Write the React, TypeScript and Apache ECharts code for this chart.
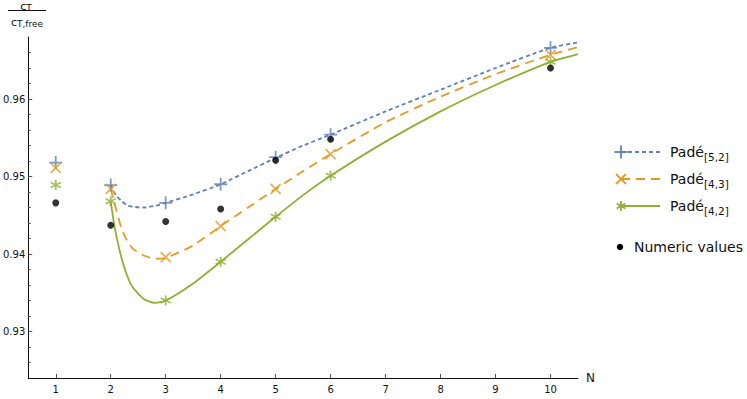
import React, { useEffect, useRef } from "react";
import * as echarts from "echarts";

// ---- data ----
const markerN = [1, 2, 3, 4, 5, 6, 10];
const pade52Points = [0.9518, 0.9489, 0.9466, 0.949, 0.9525, 0.9554, 0.9666];
const pade43Points = [0.9511, 0.9484, 0.9396, 0.9436, 0.9484, 0.9529, 0.9657];
const pade42Points = [0.9489, 0.9468, 0.934, 0.939, 0.9448, 0.9501, 0.9648];
const numericN = [1, 2, 3, 4, 5, 6, 10];
const numericValues = [0.9466, 0.9437, 0.9442, 0.9458, 0.9521, 0.9548, 0.964];

const curveN = [2, 2.05, 2.1, 2.2, 2.3, 2.4, 2.6, 2.8, 3, 3.5, 4, 4.5, 5, 5.5, 6, 7, 8, 9, 10, 10.5];
const pade52Curve = [0.9489, 0.9481, 0.9475, 0.9468, 0.9463, 0.9461, 0.946, 0.9462, 0.9466, 0.9477, 0.949, 0.9507, 0.9524, 0.954, 0.9554, 0.9584, 0.9612, 0.964, 0.9666, 0.9673];
const pade43Curve = [0.9484, 0.947, 0.9457, 0.9432, 0.9417, 0.9407, 0.9398, 0.9394, 0.9395, 0.9411, 0.9436, 0.946, 0.9484, 0.9507, 0.9529, 0.957, 0.9603, 0.9632, 0.9657, 0.9667];
const pade42Curve = [0.9468, 0.9444, 0.9424, 0.9394, 0.9372, 0.9357, 0.9342, 0.9337, 0.934, 0.9362, 0.939, 0.9419, 0.9448, 0.9476, 0.9501, 0.9545, 0.9584, 0.9618, 0.9648, 0.9658];

const xTicks = [1, 2, 3, 4, 5, 6, 7, 8, 9, 10];
const yMajorTicks = [0.93, 0.94, 0.95, 0.96];
const yMinorTicks = [0.926, 0.928, 0.932, 0.934, 0.936, 0.938, 0.942, 0.944, 0.946, 0.948, 0.952, 0.954, 0.956, 0.958, 0.962, 0.964, 0.966];

const BLUE = "#5E81B5";
const ORANGE = "#E19C24";
const GREEN = "#8FB032";
const FONT = "DejaVu Sans";

const PLUS = "path://M5,0L5,10M0,5L10,5";
const CROSS = "path://M0,0L10,10M0,10L10,0";
const STAR = "path://M5,0L5,10M0.67,2.5L9.33,7.5M0.67,7.5L9.33,2.5";

const zip = (xs: number[], ys: number[]) => xs.map((x, i) => [x, ys[i]]);

export default function App() {
  const ref = useRef<HTMLDivElement>(null);
  useEffect(() => {
    if (!ref.current) return;
    document.body.style.margin = "0";
    const chart = echarts.init(ref.current, undefined, { renderer: "svg" });

    const legendRows = [
      { y: 152, color: BLUE, dash: [4, 3], sub: "[5,2]", mark: "plus" },
      { y: 179, color: ORANGE, dash: [9, 6], sub: "[4,3]", mark: "cross" },
      { y: 206, color: GREEN, dash: null, sub: "[4,2]", mark: "star" },
    ];
    const graphics: any[] = [];
    legendRows.forEach((r) => {
      graphics.push({
        type: "line",
        shape: { x1: 621, y1: r.y, x2: 660, y2: r.y },
        style: { stroke: r.color, lineWidth: 1.8, lineDash: r.dash || undefined },
      });
      const cx = 621, cy = r.y;
      let segs: number[][] = [];
      if (r.mark === "plus") segs = [[cx - 6.5, cy, cx + 6.5, cy], [cx, cy - 6.5, cx, cy + 6.5]];
      if (r.mark === "cross") segs = [[cx - 5, cy - 5, cx + 5, cy + 5], [cx - 5, cy + 5, cx + 5, cy - 5]];
      if (r.mark === "star")
        segs = [[cx, cy - 5, cx, cy + 5], [cx - 4.3, cy - 2.5, cx + 4.3, cy + 2.5], [cx - 4.3, cy + 2.5, cx + 4.3, cy - 2.5]];
      segs.forEach((s) =>
        graphics.push({
          type: "line",
          shape: { x1: s[0], y1: s[1], x2: s[2], y2: s[3] },
          style: { stroke: r.color, lineWidth: 1.8 },
        })
      );
      graphics.push({
        type: "text",
        x: 670,
        y: r.y,
        style: {
          text: "{a|Padé}{s|" + r.sub + "}",
          verticalAlign: "middle",
          fill: "#111",
          rich: {
            a: { fontSize: 14, fontFamily: FONT, lineHeight: 20, fill: "#111" },
            s: { fontSize: 10.5, fontFamily: FONT, verticalAlign: "bottom", fill: "#111" },
          },
        },
      });
    });
    graphics.push({ type: "circle", shape: { cx: 620, cy: 247, r: 3.2 }, style: { fill: "#000" } });
    graphics.push({
      type: "text",
      x: 634,
      y: 247,
      style: { text: "Numeric values", fontSize: 14, fontFamily: FONT, fill: "#111", verticalAlign: "middle" },
    });
    // y axis label: c_T / c_T,free
    graphics.push({
      type: "text",
      x: 26,
      y: 1,
      style: {
        text: "{c|c}{s|T}",
        align: "center",
        verticalAlign: "top",
        rich: {
          c: { fontSize: 11, fontFamily: FONT, lineHeight: 11, fill: "#111" },
          s: { fontSize: 9, fontFamily: FONT, verticalAlign: "bottom", fill: "#111" },
        },
      },
    });
    graphics.push({ type: "line", shape: { x1: 8, y1: 10.5, x2: 46, y2: 10.5 }, style: { stroke: "#111", lineWidth: 1 } });
    graphics.push({
      type: "text",
      x: 27,
      y: 22,
      style: {
        text: "{c|c}{s|T,free}",
        align: "center",
        verticalAlign: "middle",
        rich: {
          c: { fontSize: 11, fontFamily: FONT, lineHeight: 13, fill: "#111" },
          s: { fontSize: 9, fontFamily: FONT, verticalAlign: "bottom", fill: "#111" },
        },
      },
    });

    const scatter = (data: number[][], symbol: string, size: number, color: string, z = 5) => ({
      type: "scatter",
      data,
      symbol,
      symbolSize: size,
      itemStyle: { color, borderColor: color, borderWidth: 1.8 },
      z,
      silent: true,
    });
    const line = (data: number[][], color: string, type: any) => ({
      type: "line",
      data,
      showSymbol: false,
      smooth: 0.2,
      lineStyle: { color, width: 1.8, type },
      z: 3,
      silent: true,
    });

    chart.setOption({
      animation: false,
      grid: { left: 27, right: 169, top: 37, bottom: 21, containLabel: false },
      xAxis: {
        type: "value",
        min: 0.5,
        max: 10.5,
        name: "N",
        nameLocation: "end",
        nameGap: 8,
        nameTextStyle: { fontSize: 12, fontFamily: FONT, color: "#111" },
        axisLine: { show: true, lineStyle: { color: "#111", width: 1 } },
        axisTick: { show: true, inside: true, length: 4, customValues: xTicks, lineStyle: { color: "#555" } },
        axisLabel: { customValues: xTicks, fontSize: 10, fontFamily: FONT, color: "#111", margin: 6 },
        splitLine: { show: false },
      },
      yAxis: [
        {
          type: "value",
          min: 0.924,
          max: 0.968,
          position: "left",
          axisLine: { show: true, onZero: false, lineStyle: { color: "#111", width: 1 } },
          axisTick: { show: true, inside: true, length: 2.5, customValues: yMinorTicks, lineStyle: { color: "#555" } },
          axisLabel: {
            customValues: yMajorTicks,
            fontSize: 10,
            fontFamily: FONT,
            color: "#111",
            margin: 3,
            formatter: (v: number) => v.toFixed(2),
          },
          splitLine: { show: false },
        },
        {
          type: "value",
          min: 0.924,
          max: 0.968,
          position: "left",
          axisLine: { show: false },
          axisTick: { show: true, inside: true, length: 4, customValues: yMajorTicks, lineStyle: { color: "#555" } },
          axisLabel: { show: false },
          splitLine: { show: false },
        },
      ],
      series: [
        line(zip(curveN, pade52Curve), BLUE, [4, 3]),
        line(zip(curveN, pade43Curve), ORANGE, [9, 6]),
        line(zip(curveN, pade42Curve), GREEN, "solid"),
        scatter(zip(markerN, pade52Points), PLUS, 13, BLUE),
        scatter(zip(markerN, pade43Points), CROSS, 10, ORANGE),
        scatter(zip(markerN, pade42Points), STAR, 10, GREEN),
        {
          type: "scatter",
          data: zip(numericN, numericValues),
          symbol: "circle",
          symbolSize: 7,
          itemStyle: { color: "#000" },
          z: 6,
          silent: true,
        },
      ],
      graphic: graphics,
    });
    return () => chart.dispose();
  }, []);
  return <div ref={ref} style={{ width: 747, height: 399 }} />;
}
